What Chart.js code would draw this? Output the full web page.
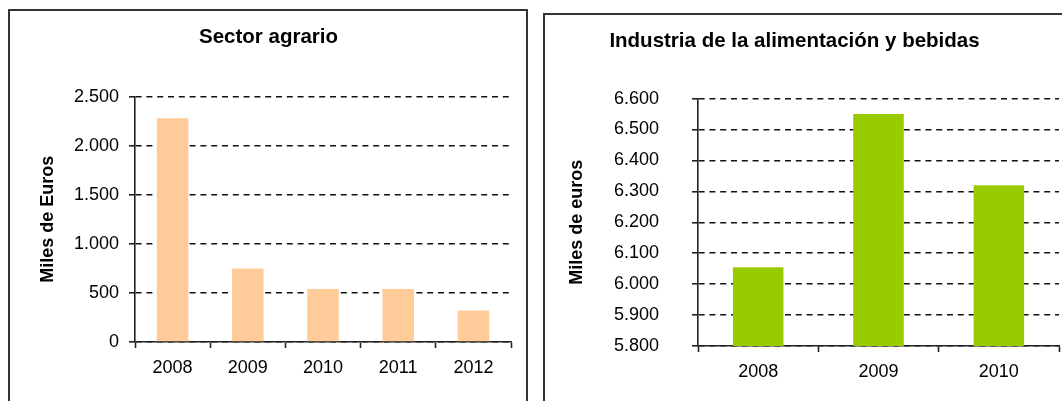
<!DOCTYPE html>
<html>
<head>
<meta charset="utf-8">
<script src="https://cdn.jsdelivr.net/npm/chart.js@4/dist/chart.umd.min.js"></script>
<style>
  html, body { margin: 0; padding: 0; background: #fff; width: 1062px; height: 401px; overflow: hidden; position: relative; }
  .box { position: absolute; border: 2px solid #333; box-sizing: border-box; }
  canvas { position: absolute; top: 0; }
</style>
</head>
<body>
<div class="box" style="left:8px; top:9px; width:520px; height:500px;"></div>
<div class="box" style="left:543px; top:13px; width:600px; height:500px;"></div>
<canvas id="c1" width="530" height="401" style="left:0px;"></canvas>
<canvas id="c2" width="532" height="401" style="left:530px;"></canvas>
<script>
// ---- data ----
const leftTitle = 'Sector agrario';
const leftAxisTitle = 'Miles de Euros';
const leftCategories = ['2008', '2009', '2010', '2011', '2012'];
const leftValues = [2280, 750, 540, 540, 320];
const leftMin = 0, leftMax = 2500, leftStep = 500;

const rightTitle = 'Industria de la alimentación y bebidas';
const rightAxisTitle = 'Miles de euros';
const rightCategories = ['2008', '2009', '2010'];
const rightValues = [6055, 6550, 6320];
const rightMin = 5800, rightMax = 6600, rightStep = 100;

const FONT = '"Liberation Sans", Arial, sans-serif';
const TXT = '#000';

function fmt(v) {
  return String(v).replace(/\B(?=(\d{3})+(?!\d))/g, '.');
}

function makeChart(id, o) {
  return new Chart(document.getElementById(id), {
    type: 'bar',
    data: {
      labels: o.categories,
      datasets: [{
        data: o.values,
        backgroundColor: o.color,
        borderWidth: 0,
        barPercentage: 0.42,
        categoryPercentage: 1.0
      }]
    },
    options: {
      responsive: false,
      animation: false,
      events: [],
      layout: { padding: { left: o.padLeft, right: o.padRight, top: 0, bottom: 0 } },
      plugins: {
        legend: { display: false },
        tooltip: { enabled: false },
        title: {
          display: true,
          text: o.title,
          color: '#000',
          font: { family: FONT, size: 20.5, weight: 'bold', lineHeight: 1.2 },
          padding: { top: o.titleTop, bottom: o.titleBottom }
        }
      },
      scales: {
        x: {
          grid: {
            display: true,
            drawOnChartArea: false,
            drawTicks: true,
            tickLength: 6,
            tickColor: '#222',
            tickWidth: 1.6,
            offset: true
          },
          border: { display: true, color: '#222', width: 1.6 },
          ticks: {
            color: TXT,
            padding: 9,
            font: { family: FONT, size: 18 },
            maxRotation: 0
          },
          afterFit: (s) => { s.height = o.xHeight; }
        },
        y: {
          min: o.min,
          max: o.max,
          grid: {
            color: '#111',
            lineWidth: 1.6,
            drawTicks: true,
            tickLength: 6,
            tickColor: '#222',
            tickWidth: 1.6,
            tickBorderDash: []
          },
          border: { display: true, color: '#222', width: 1.6, dash: [6, 4.8] },
          ticks: {
            stepSize: o.step,
            color: TXT,
            padding: o.yTickPad,
            font: { family: FONT, size: 18 },
            callback: (v) => fmt(v)
          },
          title: {
            display: true,
            text: o.axisTitle,
            color: '#000',
            font: { family: FONT, size: 18, weight: 'bold', lineHeight: 1.2 },
            padding: { top: o.yTitlePad, bottom: 0 }
          },
          afterFit: (s) => { s.width = o.yWidth; }
        }
      }
    }
  });
}

makeChart('c1', {
  categories: leftCategories,
  values: leftValues,
  color: '#FFCC99',
  title: leftTitle,
  axisTitle: leftAxisTitle,
  min: leftMin, max: leftMax, step: leftStep,
  padLeft: 26, padRight: 19,
  titleTop: 25, titleBottom: 47,
  xHeight: 59,
  yWidth: 109,
  yTickPad: 10,
  yTitlePad: 11
});

makeChart('c2', {
  categories: rightCategories,
  values: rightValues,
  color: '#99CC00',
  title: rightTitle,
  axisTitle: rightAxisTitle,
  min: rightMin, max: rightMax, step: rightStep,
  padLeft: 0, padRight: 3,
  titleTop: 29, titleBottom: 45,
  xHeight: 55,
  yWidth: 168,
  yTickPad: 33,
  yTitlePad: 36
});
</script>
</body>
</html>
